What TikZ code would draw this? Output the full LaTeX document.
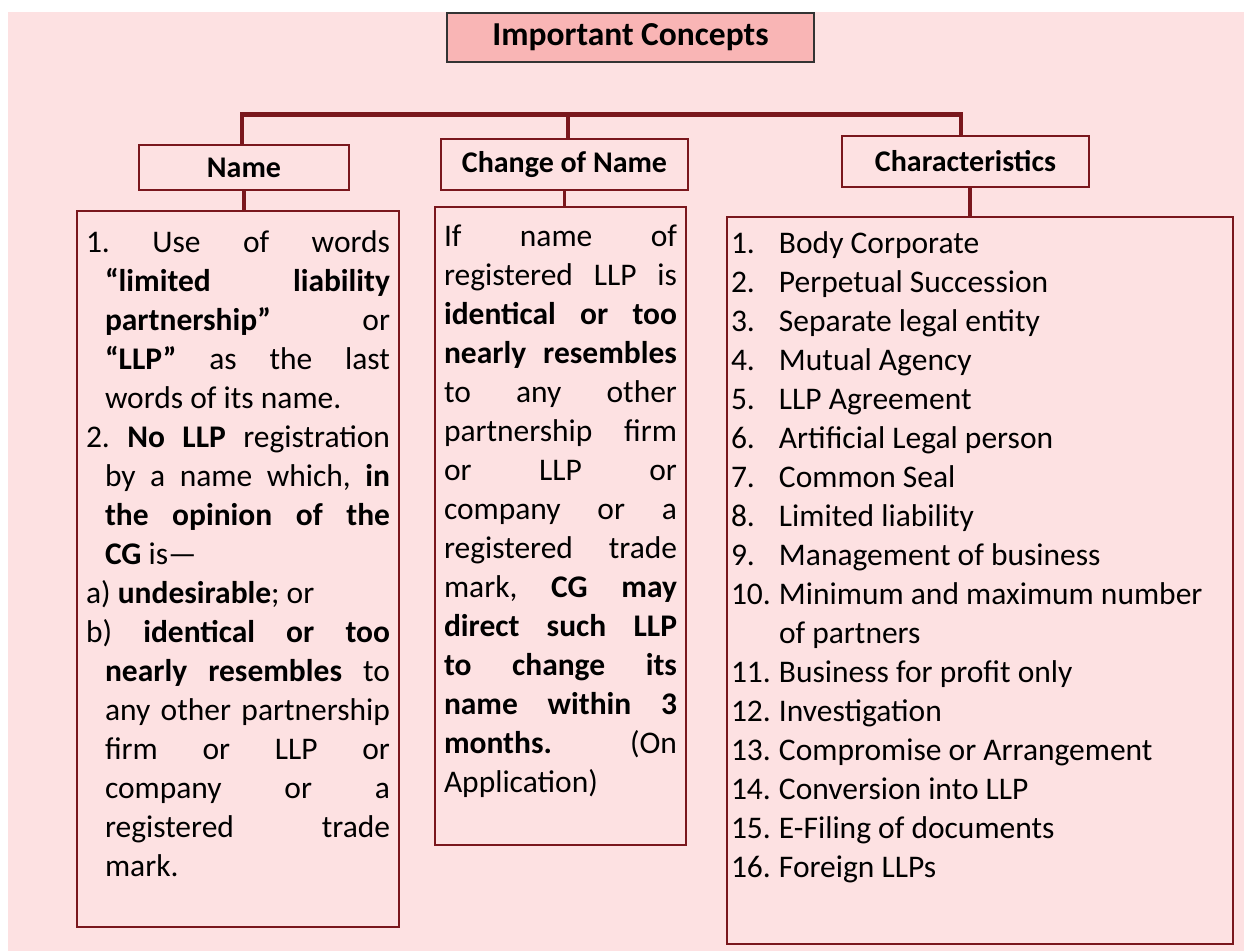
\documentclass[tikz,border=0pt]{standalone}
\usepackage{fontspec}
\setmainfont{Carlito}
\usetikzlibrary{positioning}

\definecolor{bgpink}{HTML}{FDE1E2}
\definecolor{titlepink}{HTML}{F9B5B5}
\definecolor{linkred}{HTML}{7A171D}

\newcommand{\bodyfont}{\fontsize{31.5}{39}\selectfont}
\newcommand{\headfont}{\fontsize{30}{36}\selectfont\bfseries}
\newcommand{\justsetup}{\frenchspacing\tolerance=10000\hbadness=10000\hyphenpenalty=10000\relax}
\newcommand{\hangpar}[1]{\hangindent=#1\hangafter=1\relax}
\newcommand{\charitem}[2]{\hangpar{48pt}\strut\makebox[48pt][l]{#1}#2\par}

\begin{document}
\begin{tikzpicture}[x=1pt, y=-1pt,
		titlebox/.style={rectangle, draw=black!80, line width=1.3pt, fill=titlepink, minimum width=367pt, minimum height=49pt, outer sep=0pt, font=\fontsize{33.5}{40}\selectfont\bfseries},
		headbox/.style={rectangle, draw=linkred, line width=2.7pt, minimum height=51pt, inner sep=0pt, outer sep=0pt, font=\headfont},
		listbox/.style={rectangle, draw=linkred, line width=2.5pt, inner xsep=9pt, outer sep=0pt, font=\bodyfont},
		link/.style={draw=linkred, line width=3.2pt},
		bus/.style={draw=linkred, line width=4.5pt, line cap=rect}
		]
		
		% page and background
		\useasboundingbox (0,0) rectangle (1244,951);
		\fill[bgpink] (8,12) rectangle (1244,951);
		
		% title
		\node[titlebox] (concepts) at (630.5,37.5) {Important Concepts};
		
		% headings
		\node[headbox, minimum width=210pt, minimum height=45pt] (name) at (244,167.5) {Name};
		\node[headbox, minimum width=247pt] (change) at (564.5,164.5) {Change of Name};
		\node[headbox, minimum width=247pt] (charac) at (965.5,161.5) {Characteristics};
		
		% bus to the headings
		\coordinate (bus) at (0,114.5);
		\draw[bus] ([xshift=-2pt]name.north |- bus) -- ([xshift=-4.5pt]charac.north |- bus);
		\draw[link] ([xshift=-2pt]name.north |- bus) -- ([xshift=-2pt]name.north);
		\draw[link] ([xshift=3.5pt]change.north |- bus) -- ([xshift=3.5pt]change.north);
		\draw[link] ([xshift=-4.5pt]charac.north |- bus) -- ([xshift=-4.5pt]charac.north);
		
		% Name
		\node[listbox, inner ysep=13.7pt, below=21pt of name, xshift=-6pt] (namelist) {\parbox[t][688.6pt][t]{304pt}{\justsetup
				\hangpar{19pt}\strut 1. Use of words\linebreak \textbf{“limited liability}\linebreak \textbf{partnership”} or\linebreak \textbf{“LLP”} as the last\linebreak words of its name.\par
				\hangpar{19pt}2. \textbf{No LLP} registration\linebreak by a name which, \textbf{in}\linebreak \textbf{the opinion of the}\linebreak \textbf{CG} is—\par
				a) \textbf{undesirable}; or\par
				\hangpar{19pt}b) \textbf{identical or too}\linebreak \textbf{nearly resembles} to\linebreak any other partnership\linebreak firm or LLP or\linebreak company or a\linebreak registered trade\linebreak mark.\par}};
		\draw[link] (name.south) -- (name.south |- namelist.north);
		
		% Change of Name
		\node[listbox, inner ysep=12.4pt, below=17pt of change, xshift=-4pt] (changelist) {\parbox[t][613.2pt][t]{233pt}{\justsetup
				\strut If name of\linebreak registered LLP is\linebreak \textbf{identical or too}\linebreak \textbf{nearly resembles}\linebreak to any other\linebreak partnership firm\linebreak or LLP or\linebreak company or a\linebreak registered trade\linebreak mark, \textbf{CG may}\linebreak \textbf{direct such LLP}\linebreak \textbf{to change its}\linebreak \textbf{name within 3}\linebreak \textbf{months.} (On\linebreak Application)\par}};
		\draw[link] (change.south) -- (change.south |- changelist.north);
		
		% Characteristics
		\node[listbox, inner xsep=4pt, inner ysep=9.3pt, below=30pt of charac, xshift=14.5pt] (charlist) {\parbox[t][708.4pt][t]{498pt}{\raggedright
				\charitem{1.}{Body Corporate}
				\charitem{2.}{Perpetual Succession}
				\charitem{3.}{Separate legal entity}
				\charitem{4.}{Mutual Agency}
				\charitem{5.}{LLP Agreement}
				\charitem{6.}{Artificial Legal person}
				\charitem{7.}{Common Seal}
				\charitem{8.}{Limited liability}
				\charitem{9.}{Management of business}
				\charitem{10.}{Minimum and maximum number\newline of partners}
				\charitem{11.}{Business for profit only}
				\charitem{12.}{Investigation}
				\charitem{13.}{Compromise or Arrangement}
				\charitem{14.}{Conversion into LLP}
				\charitem{15.}{E-Filing of documents}
				\charitem{16.}{Foreign LLPs}}};
		\draw[link] ([xshift=4.5pt]charac.south) -- ([xshift=4.5pt]charac.south |- charlist.north);
		
	\end{tikzpicture}
\end{document}
